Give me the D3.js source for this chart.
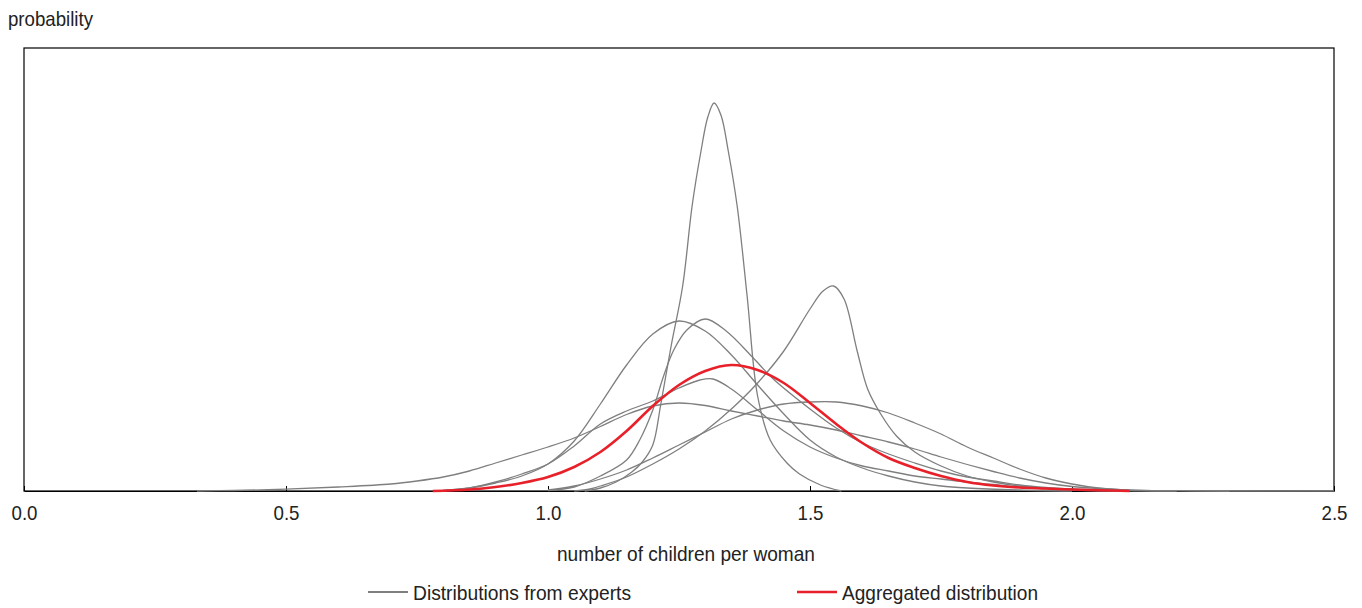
<!DOCTYPE html>
<html>
<head>
<meta charset="utf-8">
<script src="https://cdn.jsdelivr.net/npm/d3@7"></script>
<style>
  body { margin: 0; background: #fff; }
  text { font-family: "Liberation Sans", Arial, sans-serif; fill: #222; }
</style>
</head>
<body>
<div id="chart"></div>
<script>
// x: number of children per woman, y: probability density (arbitrary units)
var xTicks = [0, 0.5, 1.0, 1.5, 2.0, 2.5];

var expertWide = [[0.33,0],[0.40,0.005],[0.50,0.018],[0.60,0.04],[0.70,0.07],[0.75,0.10],[0.80,0.14],[0.85,0.20],[0.90,0.28],[0.95,0.36],[1.00,0.44],[1.05,0.53],[1.10,0.645],[1.15,0.765],[1.20,0.85],[1.25,0.88],[1.30,0.855],[1.35,0.80],[1.40,0.75],[1.45,0.70],[1.50,0.66],[1.55,0.61],[1.60,0.55],[1.65,0.49],[1.70,0.42],[1.75,0.34],[1.80,0.265],[1.85,0.195],[1.90,0.13],[1.95,0.08],[2.00,0.045],[2.10,0.012],[2.20,0.003],[2.30,0]];

var expertSharp = [[1.07,0],[1.10,0.03],[1.13,0.09],[1.16,0.19],[1.18,0.29],[1.20,0.46],[1.215,0.86],[1.235,1.45],[1.257,2.05],[1.275,2.85],[1.292,3.40],[1.305,3.74],[1.317,3.88],[1.33,3.76],[1.344,3.40],[1.361,2.85],[1.38,1.95],[1.40,0.95],[1.424,0.51],[1.456,0.28],[1.48,0.17],[1.52,0.06],[1.56,0]];

var expertB = [[0.80,0.005],[0.85,0.03],[0.90,0.08],[0.95,0.15],[1.00,0.27],[1.05,0.50],[1.10,0.87],[1.15,1.26],[1.20,1.57],[1.25,1.70],[1.30,1.60],[1.35,1.36],[1.40,1.06],[1.45,0.77],[1.50,0.51],[1.55,0.34],[1.60,0.23],[1.65,0.15],[1.70,0.09],[1.75,0.05],[1.80,0.03],[1.90,0.01],[2.00,0]];

var expertC = [[1.00,0.005],[1.05,0.04],[1.10,0.15],[1.15,0.31],[1.175,0.51],[1.20,0.81],[1.22,1.14],[1.24,1.41],[1.265,1.61],[1.30,1.72],[1.34,1.60],[1.39,1.34],[1.43,1.12],[1.50,0.82],[1.55,0.63],[1.60,0.48],[1.65,0.37],[1.70,0.28],[1.75,0.20],[1.80,0.14],[1.85,0.10],[1.90,0.06],[1.95,0.035],[2.00,0.02],[2.10,0.005],[2.20,0]];

var expertPeak = [[1.05,0],[1.08,0.02],[1.10,0.05],[1.15,0.14],[1.20,0.27],[1.25,0.42],[1.30,0.60],[1.35,0.82],[1.40,1.08],[1.45,1.40],[1.50,1.82],[1.525,2.00],[1.545,2.05],[1.565,1.92],[1.59,1.40],[1.61,1.02],[1.635,0.77],[1.665,0.55],[1.70,0.39],[1.75,0.25],[1.80,0.15],[1.85,0.09],[1.90,0.05],[1.95,0.03],[2.00,0.015],[2.10,0]];

var expertE = [[0.80,0.005],[0.85,0.03],[0.90,0.09],[0.95,0.17],[1.00,0.27],[1.05,0.45],[1.10,0.67],[1.15,0.80],[1.20,0.90],[1.25,1.03],[1.29,1.11],[1.315,1.12],[1.35,1.02],[1.40,0.81],[1.45,0.60],[1.50,0.44],[1.55,0.33],[1.60,0.25],[1.65,0.20],[1.70,0.15],[1.75,0.12],[1.80,0.09],[1.85,0.065],[1.90,0.04],[2.00,0.01],[2.10,0]];

var expertRight = [[1.00,0.01],[1.05,0.05],[1.10,0.12],[1.15,0.21],[1.20,0.33],[1.25,0.46],[1.30,0.59],[1.35,0.72],[1.40,0.81],[1.45,0.87],[1.50,0.89],[1.55,0.89],[1.60,0.85],[1.65,0.78],[1.70,0.68],[1.75,0.57],[1.80,0.44],[1.85,0.33],[1.90,0.22],[1.95,0.13],[2.00,0.07],[2.05,0.03],[2.10,0.012],[2.20,0.003],[2.30,0],[2.50,0]];

var aggregated = [[0.78,0],[0.85,0.015],[0.90,0.04],[0.95,0.08],[1.00,0.14],[1.05,0.24],[1.10,0.39],[1.15,0.60],[1.20,0.85],[1.25,1.06],[1.30,1.20],[1.35,1.26],[1.40,1.21],[1.45,1.08],[1.50,0.88],[1.55,0.67],[1.60,0.48],[1.65,0.33],[1.70,0.23],[1.75,0.15],[1.80,0.09],[1.85,0.055],[1.90,0.035],[1.95,0.025],[2.00,0.015],[2.05,0.008],[2.11,0]];

var experts = [expertWide, expertRight, expertE, expertB, expertC, expertPeak, expertSharp];

var width = 1362, height = 608;
var margin = {top: 48, right: 28, bottom: 117, left: 24};
var plotW = width - margin.left - margin.right,
    plotH = height - margin.top - margin.bottom;

var svg = d3.select("#chart").append("svg")
    .attr("width", width)
    .attr("height", height);

var x = d3.scaleLinear().domain([0, 2.5]).range([margin.left, margin.left + plotW]);
var y = d3.scaleLinear().domain([0, 4.43]).range([margin.top + plotH, margin.top]);

// frame
svg.append("rect")
    .attr("x", margin.left)
    .attr("y", margin.top)
    .attr("width", plotW)
    .attr("height", plotH)
    .attr("fill", "none")
    .attr("stroke", "#000")
    .attr("stroke-width", 1.2);

// x axis, ticks pointing inward
var xAxis = d3.axisBottom(x)
    .tickValues(xTicks)
    .tickFormat(d3.format(".1f"))
    .tickSizeInner(-5)
    .tickSizeOuter(0)
    .tickPadding(14.5);

var gx = svg.append("g")
    .attr("transform", "translate(0," + (margin.top + plotH) + ")")
    .call(xAxis);
gx.select(".domain").attr("stroke", "#000").attr("stroke-width", 1.2);
gx.selectAll(".tick line").attr("stroke", "#000");
gx.selectAll(".tick text")
    .style("font-family", "'Liberation Sans', Arial, sans-serif")
    .style("font-size", "21px")
    .attr("fill", "#222")
    .attr("textLength", 26)
    .attr("lengthAdjust", "spacingAndGlyphs");

var line = d3.line()
    .x(function(d) { return x(d[0]); })
    .y(function(d) { return y(Math.max(0, d[1])); })
    .curve(d3.curveCatmullRom.alpha(0.5));

svg.append("g").attr("class", "experts")
  .selectAll("path")
    .data(experts)
  .enter().append("path")
    .attr("d", line)
    .attr("fill", "none")
    .attr("stroke", "#7f7f7f")
    .attr("stroke-width", 1.3);

svg.append("path")
    .datum(aggregated)
    .attr("d", line)
    .attr("fill", "none")
    .attr("stroke", "#e8202a")
    .attr("stroke-width", 2.6);

// texts (condensed to match the narrow face of the original)
function label(sel, txt, len) {
  return sel.style("font-size", "21px")
    .attr("textLength", len)
    .attr("lengthAdjust", "spacingAndGlyphs")
    .text(txt);
}

label(svg.append("text").attr("x", 8).attr("y", 26), "probability", 85);

label(svg.append("text").attr("x", 557).attr("y", 561), "number of children per woman", 258);

// legend
var legend = [
  {label: "Distributions from experts", color: "#7f7f7f", x: 368, w: 1.8, len: 218},
  {label: "Aggregated distribution", color: "#e8202a", x: 797, w: 2.6, len: 196}
];
var lg = svg.append("g").selectAll("g")
    .data(legend)
  .enter().append("g")
    .attr("transform", function(d) { return "translate(" + d.x + ",592)"; });
lg.append("line")
    .attr("x1", 0).attr("x2", 40)
    .attr("y1", 0).attr("y2", 0)
    .attr("stroke", function(d) { return d.color; })
    .attr("stroke-width", function(d) { return d.w; });
lg.append("text")
    .attr("x", 45)
    .attr("y", 8)
    .style("font-size", "21px")
    .attr("textLength", function(d) { return d.len; })
    .attr("lengthAdjust", "spacingAndGlyphs")
    .text(function(d) { return d.label; });
</script>
</body>
</html>
